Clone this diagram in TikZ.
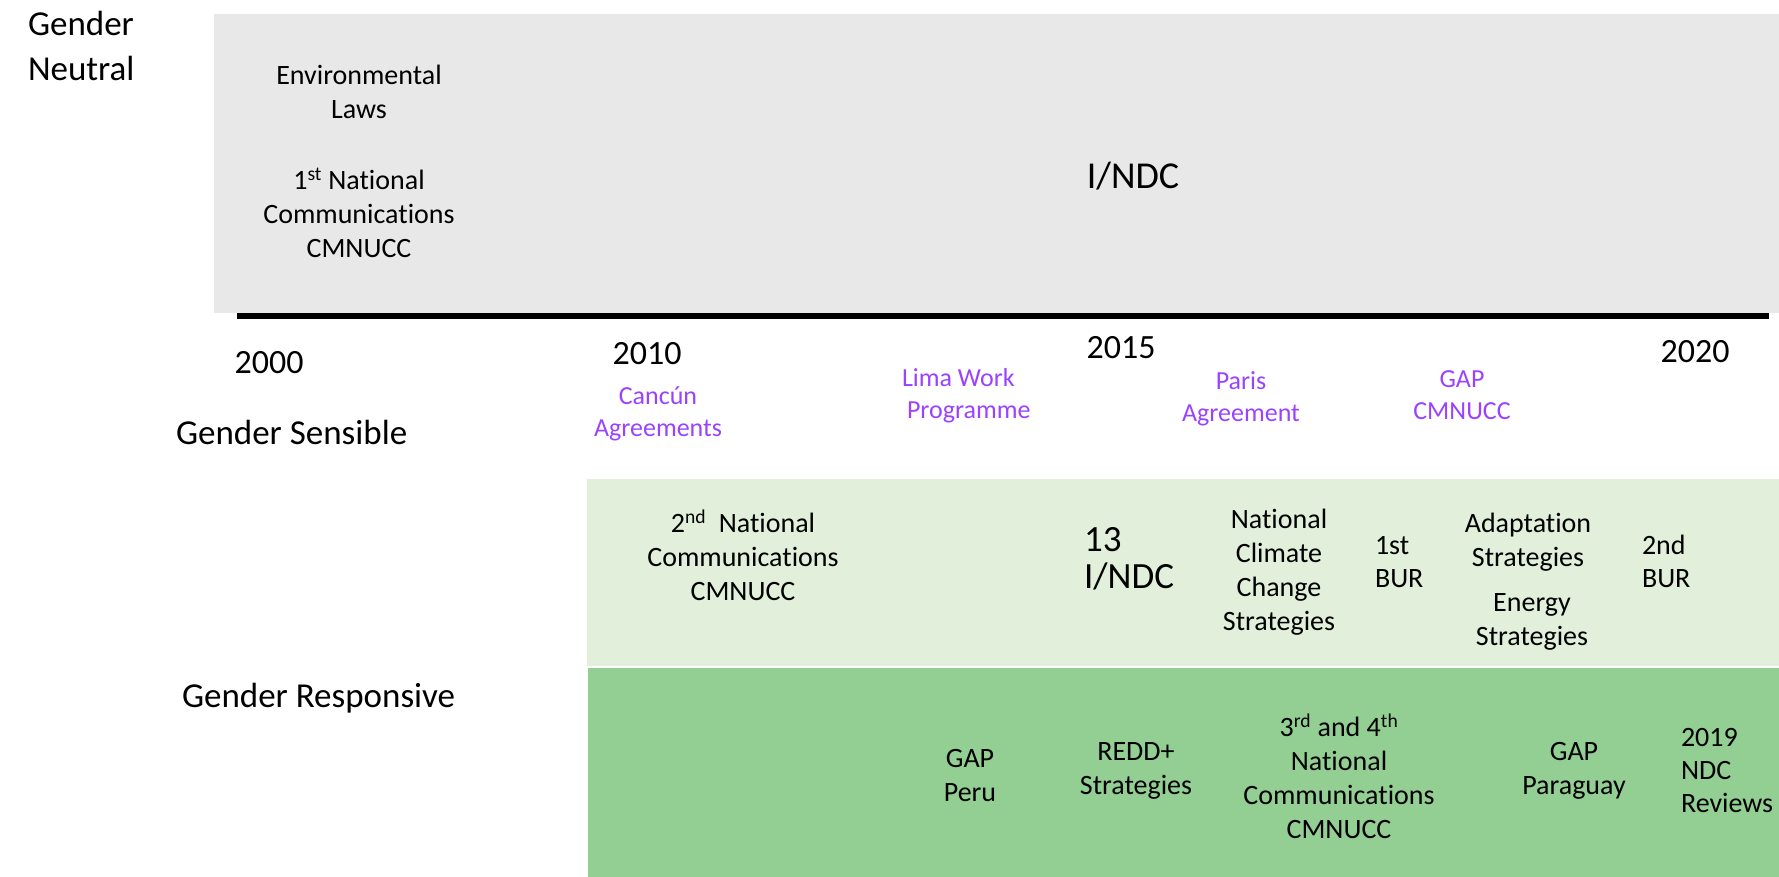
\documentclass[tikz,border=0pt]{standalone}
\usepackage{fontspec}
\setmainfont{Carlito}[Ligatures={NoCommon}]
\definecolor{bgray}{HTML}{E8E8E8}
\definecolor{lgreen}{HTML}{E2EFDA}
\definecolor{dgreen}{HTML}{93CF93}
\definecolor{purp}{HTML}{9A42FF}
\begin{document}
\begin{tikzpicture}[x=1pt,y=-1pt,
  every node/.style={inner sep=0pt, outer sep=0pt},
  body/.style={align=center, font=\fontsize{28}{34}\selectfont},
  bodyl/.style={align=left, anchor=west, font=\fontsize{28}{33}\selectfont},
  milestone/.style={align=center, text=purp, font=\fontsize{26}{32}\selectfont},
  yearlbl/.style={font=\fontsize{34}{40}\selectfont},
  levellbl/.style={align=left, anchor=west, font=\fontsize{35}{45}\selectfont},
  big/.style={font=\fontsize{38}{44}\selectfont}]
\useasboundingbox (0,0) rectangle (1779,877);
% bands
\fill[bgray] (214,14) rectangle (1779,313);
\fill[lgreen] (587,479) rectangle (1779,666);
\fill[dgreen] (588,668) rectangle (1779,877);
% axis
\coordinate (axL) at (237,316);
\coordinate (axR) at (1769,316);
\draw[line width=6pt] (axL) -- (axR);
% level labels
\node[levellbl] (gneutral) at (28,46) {Gender\\Neutral};
\node[levellbl] (gsens) at (176,432) {Gender Sensible};
\node[levellbl] (gresp) at (182,698) {Gender Responsive};
% years
\node[yearlbl] (y2000) at (269,363) {2000};
\node[yearlbl] (y2010) at (647,354) {2010};
\node[yearlbl] (y2015) at (1121,348) {2015};
\node[yearlbl] (y2020) at (1695,352) {2020};
% gender neutral band
\node[body] (envlaws) at (359,92) {Environmental\\Laws};
\node[body] (nc1) at (359,213) {1\textsuperscript{st} National\\Communications\\CMNUCC};
\node[big] (indc) at (1133,176) {I/NDC};
% milestones
\node[milestone] (cancun) at (658,414) {Cancún\\Agreements};
\node[milestone, align=left, anchor=west] (lima) at (902,396) {Lima Work\\\hspace*{5pt}Programme};
\node[milestone] (paris) at (1241,399) {Paris\\Agreement};
\node[milestone] (gapc) at (1462,395) {GAP\\CMNUCC};
% gender sensible band
\node[body] (nc2) at (743,555) {2\textsuperscript{nd}~ National\\Communications\\CMNUCC};
\node[bodyl, font=\fontsize{37}{37}\selectfont] (ndc13) at (1084,559) {13\\I/NDC};
\node[body] (nccs) at (1279,572) {National\\Climate\\Change\\Strategies};
\node[bodyl] (bur1) at (1375,562) {1st\\BUR};
\node[body] (adapt) at (1528,542) {Adaptation\\Strategies};
\node[body] (energy) at (1532,622) {Energy\\Strategies};
\node[bodyl] (bur2) at (1642,561) {2nd\\BUR};
% gender responsive band
\node[body] (gapperu) at (970,776) {GAP\\Peru};
\node[body] (redd) at (1136,771) {REDD+\\Strategies};
\node[body] (nc34) at (1339,776) {3\textsuperscript{rd} and 4\textsuperscript{th}\\National\\Communications\\CMNUCC};
\node[body] (gappy) at (1574,771) {GAP\\Paraguay};
\node[bodyl] (ndc2019) at (1681,771) {2019\\NDC\\Reviews};
\end{tikzpicture}
\end{document}
